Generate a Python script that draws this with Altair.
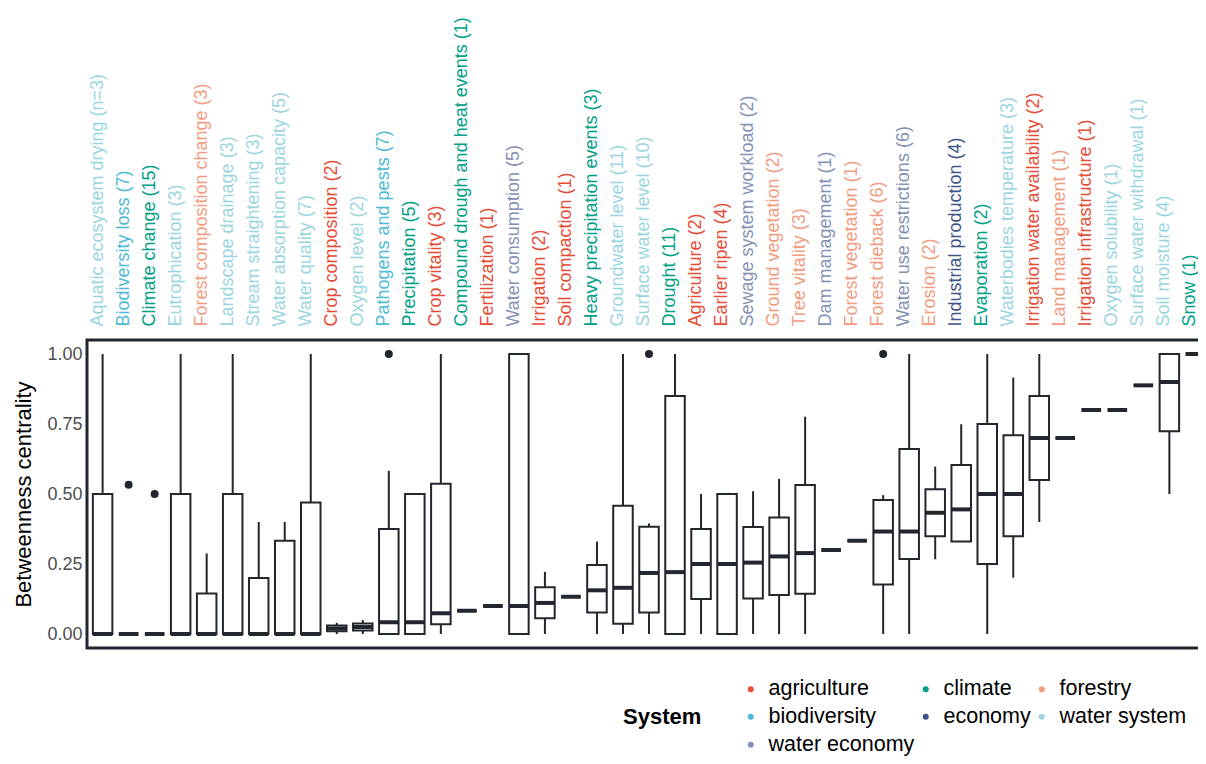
import json
import altair as alt
import pandas as pd

names = [
    "Aquatic ecosystem drying", "Biodiversity loss", "Climate change", "Eutrophication",
    "Forest composition change", "Landscape drainage", "Stream straightening",
    "Water absorption capacity", "Water quality", "Crop composition", "Oxygen level",
    "Pathogens and pests", "Precipitation", "Crop vitality", "Compound drough and heat events",
    "Fertilization", "Water consumption", "Irrigation", "Soil compaction",
    "Heavy precipitation events", "Groundwater level", "Surface water level", "Drought",
    "Agriculture", "Earlier ripen", "Sewage system workload", "Ground vegetation",
    "Tree vitality", "Dam management", "Forest vegetation", "Forest dieback",
    "Water use restrictions", "Erosion", "Industrial production", "Evaporation",
    "Waterbodies temperature", "Irrigation water availability", "Land management",
    "Irrigation infrastructure", "Oxygen solubility", "Surface water withdrawal",
    "Soil moisture", "Snow",
]
counts = [3, 7, 15, 3, 3, 3, 3, 5, 7, 2, 2, 7, 5, 3, 1, 1, 5, 2, 1, 3, 11, 10, 11, 2, 4,
          2, 2, 3, 1, 1, 6, 6, 2, 4, 2, 3, 2, 1, 1, 1, 1, 4, 1]
systems = [
    "water system", "biodiversity", "climate", "water system", "forestry", "water system",
    "water system", "water system", "water system", "agriculture", "water system",
    "biodiversity", "climate", "agriculture", "climate", "agriculture", "water economy",
    "agriculture", "agriculture", "climate", "water system", "water system", "climate",
    "agriculture", "agriculture", "water economy", "forestry", "forestry", "water economy",
    "forestry", "forestry", "water economy", "forestry", "economy", "climate",
    "water system", "agriculture", "forestry", "agriculture", "water system",
    "water system", "water system", "climate",
]
lower = [0, 0, 0, 0, 0, 0, 0, 0, 0, 0, 0, 0, 0, 0, 0.083, 0.1, 0, 0, 0.133, 0, 0, 0, 0,
         0, 0, 0, 0, 0, 0.3, 0.333, 0, 0, 0.267, 0.33, 0, 0.201, 0.4, 0.7, 0.8, 0.8,
         0.888, 0.5, 1.0]
q1 = [0, 0, 0, 0, 0, 0, 0, 0, 0, 0.01, 0.0125, 0, 0, 0.035, 0.083, 0.1, 0, 0.056, 0.133,
      0.077, 0.037, 0.077, 0, 0.125, 0, 0.127, 0.139, 0.144, 0.3, 0.333, 0.177, 0.268,
      0.349, 0.33, 0.25, 0.349, 0.55, 0.7, 0.8, 0.8, 0.888, 0.724, 1.0]
median = [0, 0, 0, 0, 0, 0, 0, 0, 0, 0.02, 0.025, 0.042, 0.042, 0.074, 0.083, 0.1, 0.1,
          0.111, 0.133, 0.156, 0.165, 0.218, 0.221, 0.25, 0.25, 0.255, 0.277, 0.289, 0.3,
          0.333, 0.366, 0.366, 0.433, 0.445, 0.5, 0.5, 0.7, 0.7, 0.8, 0.8, 0.888, 0.9, 1.0]
q3 = [0.5, 0, 0, 0.5, 0.145, 0.5, 0.2, 0.333, 0.47, 0.03, 0.0375, 0.375, 0.5, 0.537,
      0.083, 0.1, 1.0, 0.167, 0.133, 0.246, 0.458, 0.383, 0.85, 0.375, 0.5, 0.382, 0.416,
      0.532, 0.3, 0.333, 0.479, 0.661, 0.517, 0.604, 0.75, 0.71, 0.85, 0.7, 0.8, 0.8,
      0.888, 1.0, 1.0]
upper = [1.0, 0, 0, 1.0, 0.288, 1.0, 0.4, 0.4, 1.0, 0.04, 0.05, 0.583, 0.5, 1.0, 0.083,
         0.1, 1.0, 0.222, 0.133, 0.33, 1.0, 0.395, 1.0, 0.5, 0.5, 0.51, 0.554, 0.776, 0.3,
         0.333, 0.496, 1.0, 0.598, 0.749, 1.0, 0.916, 1.0, 0.7, 0.8, 0.8, 0.888, 1.0, 1.0]

outlier_names = ["Biodiversity loss", "Climate change", "Pathogens and pests",
                 "Surface water level", "Forest dieback"]
outlier_values = [0.533, 0.5, 1.0, 1.0, 1.0]

system_order = ["agriculture", "climate", "forestry", "biodiversity", "economy",
                "water system", "water economy"]
system_colors = ["#E64B35", "#00A087", "#F39B7F", "#4DBBD5", "#3C5488", "#9BD6E0",
                 "#8491B4"]

labels = [f"{n} (n={c})" if i == 0 else f"{n} ({c})" for i, (n, c) in enumerate(zip(names, counts))]
label_of = dict(zip(names, labels))
color_of = dict(zip(system_order, system_colors))
label_colors = [color_of[s] for s in systems]

df = pd.DataFrame({"label": labels, "system": systems, "lower": lower, "q1": q1,
                   "median": median, "q3": q3, "upper": upper})
out_df = pd.DataFrame({"label": [label_of[n] for n in outlier_names], "value": outlier_values})

DARK = "#22262E"
FONT = "Liberation Sans"
FULL_W = 1124
PLOT_H = 308
BOX_W = 0.75 * FULL_W / 43.2

color_expr = f"{json.dumps(label_colors)}[indexof({json.dumps(labels)}, datum.value)]"

x_enc = alt.X(
    "label:N", sort=labels, title=None,
    scale=alt.Scale(range=[0, FULL_W], paddingInner=0, paddingOuter=0.1),
    axis=alt.Axis(orient="top", labelAngle=270, labelAlign="left", labelBaseline="middle",
                  labelFontSize=18, labelFont=FONT, labelPadding=14, labelOffset=-5,
                  ticks=False, domain=False, labelLimit=500, labelOverlap=False,
                  labelColor={"expr": color_expr}),
)
y_scale = alt.Scale(domain=[-0.05, 1.05], nice=False, zero=False)
y_axis = alt.Axis(values=[0, 0.25, 0.5, 0.75, 1.0], format=".2f", labelFontSize=18,
                  labelFont=FONT, labelColor="#4D4D4D", labelPadding=5, ticks=False,
                  domain=False, grid=False, title="Betweenness centrality",
                  titleFontSize=22, titleFont=FONT, titleFontWeight="normal",
                  titleColor="black", titleX=-57, titleY=154, titleAngle=270,
                  titleAlign="center", titleBaseline="alphabetic")

base = alt.Chart(df)

whisk = base.mark_rule(color=DARK, strokeWidth=2).encode(
    x=x_enc, y=alt.Y("lower:Q", scale=y_scale, axis=y_axis), y2="upper:Q")
box = base.mark_bar(width={"band": 0.75}, fill="white", stroke=DARK, strokeWidth=2).encode(
    x=x_enc, y=alt.Y("q1:Q", scale=y_scale, axis=y_axis), y2="q3:Q")
med = base.mark_tick(orient="horizontal", thickness=4, size=BOX_W, color=DARK, opacity=1).encode(
    x=x_enc, y=alt.Y("median:Q", scale=y_scale, axis=y_axis))
pts = alt.Chart(out_df).mark_circle(size=64, color=DARK, opacity=1).encode(
    x=x_enc, y=alt.Y("value:Q", scale=y_scale, axis=y_axis))
legend_layer = base.mark_point(filled=True, opacity=0).encode(
    x=x_enc, y=alt.Y("median:Q", scale=y_scale, axis=y_axis),
    color=alt.Color("system:N", scale=alt.Scale(domain=system_order, range=system_colors),
                    legend=alt.Legend(title="System", orient="none", legendX=536, legendY=338,
                                      direction="horizontal", columns=3, columnPadding=0,
                                      rowPadding=5, titleOrient="left", titleAnchor="middle",
                                      titlePadding=38, titleFontSize=22, titleFont=FONT,
                                      titleFontWeight="bold", titleColor="black",
                                      labelFontSize=21.5, labelFont=FONT, labelColor="black",
                                      labelOffset=7, symbolType="circle", symbolSize=36,
                                      symbolOpacity=1, symbolStrokeWidth=0)))
frame = alt.Chart(pd.DataFrame({"k": [0]})).mark_rect(
    fill=None, filled=False, stroke=DARK, strokeWidth=3).encode(
    x=alt.value(0), x2=alt.value(FULL_W + 20), y=alt.value(0), y2=alt.value(PLOT_H))

chart = alt.layer(whisk, box, med, pts, legend_layer, frame).properties(
    width=1111, height=PLOT_H,
    autosize=alt.AutoSizeParams(type="none"),
    padding={"left": 79, "top": 332, "right": 0, "bottom": 108},
).configure_view(stroke=None).configure(font=FONT, background="white")

chart.save("out.html", embed_options={"renderer": "svg", "actions": False})
